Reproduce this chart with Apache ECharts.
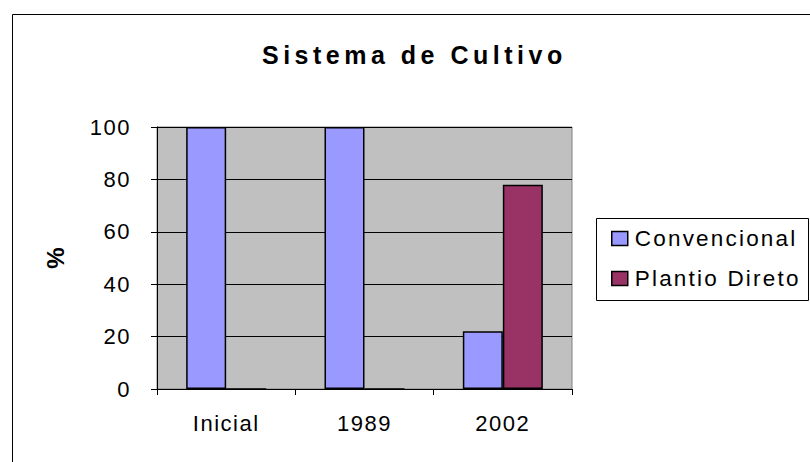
<!DOCTYPE html>
<html>
<head>
<meta charset="utf-8">
<script src="https://cdn.jsdelivr.net/npm/echarts@6/dist/echarts.min.js"></script>
<style>
  html, body { margin: 0; padding: 0; background: #fff; }
  #chart { width: 810px; height: 462px; }
  #chart text { letter-spacing: 1.5px; }
  #chart text[style*="25px"] { letter-spacing: 4.5px; }
  #chart text[style*="22.5px"] { letter-spacing: 2.2px; }
  #chart text[style*="24px"] { letter-spacing: 0px; }
</style>
</head>
<body>
<div id="chart"></div>
<script>
const titleText = 'Sistema de Cultivo';
const categories = ['Inicial', '1989', '2002'];
const seriesNames = ['Convencional', 'Plantio Direto'];
const convencional = [100, 100, 22];
const plantioDireto = [0, 0, 78];
const yAxisName = '%';

const FONT = "'Liberation Sans', Arial, sans-serif";
const chart = echarts.init(document.getElementById('chart'), null, { renderer: 'svg' });

chart.setOption({
  animation: false,
  backgroundColor: '#ffffff',
  title: {
    text: titleText,
    left: 262,
    top: 42,
    padding: 0,
    textStyle: { fontFamily: FONT, fontSize: 25, fontWeight: 'bold', color: '#000' }
  },
  graphic: [
    {
      type: 'rect', z: -10,
      shape: { x: 12.5, y: 14.5, width: 900, height: 500 },
      style: { fill: 'none', stroke: '#000', lineWidth: 1 }
    },
    {
      type: 'rect', z: -10,
      shape: { x: 596.5, y: 218.5, width: 212, height: 82 },
      style: { fill: '#fff', stroke: '#000', lineWidth: 1 }
    }
  ],
  grid: {
    left: 157, right: 238, top: 127, bottom: 73,
    show: true, backgroundColor: '#C0C0C0', borderColor: '#808080', borderWidth: 1
  },
  legend: {
    orient: 'vertical',
    left: 606, top: 222,
    itemWidth: 16, itemHeight: 14, itemGap: 17,
    icon: 'rect',
    itemStyle: { borderColor: '#000', borderWidth: 1.5 },
    textStyle: { fontFamily: FONT, fontSize: 22.5, color: '#000', padding: [0, 0, 0, 2] },
    data: seriesNames
  },
  xAxis: {
    type: 'category',
    data: categories,
    axisLine: { lineStyle: { color: '#000', width: 1 } },
    axisTick: { show: true, length: 6, lineStyle: { color: '#000' } },
    axisLabel: { fontFamily: FONT, fontSize: 22, color: '#000', margin: 23 },
    splitLine: { show: false }
  },
  yAxis: {
    type: 'value',
    min: 0, max: 100, interval: 20,
    name: yAxisName,
    nameLocation: 'middle',
    nameRotate: 90,
    nameGap: 90,
    nameTextStyle: { fontFamily: FONT, fontSize: 24, fontWeight: 'bold', color: '#000' },
    axisLine: { show: true, lineStyle: { color: '#000', width: 1 } },
    axisTick: { show: true, length: 6, lineStyle: { color: '#000' } },
    axisLabel: { fontFamily: FONT, fontSize: 22, color: '#000', margin: 26 },
    splitLine: { show: true, lineStyle: { color: '#000', width: 1 } }
  },
  series: [
    {
      name: seriesNames[0], type: 'bar', data: convencional,
      barWidth: 40, barGap: '0%',
      itemStyle: { color: '#9999FF', borderColor: '#000', borderWidth: 1.5 }
    },
    {
      name: seriesNames[1], type: 'bar', data: plantioDireto,
      barWidth: 40, barGap: '0%',
      itemStyle: { color: '#993366', borderColor: '#000', borderWidth: 1.5 }
    }
  ]
});
</script>
</body>
</html>
